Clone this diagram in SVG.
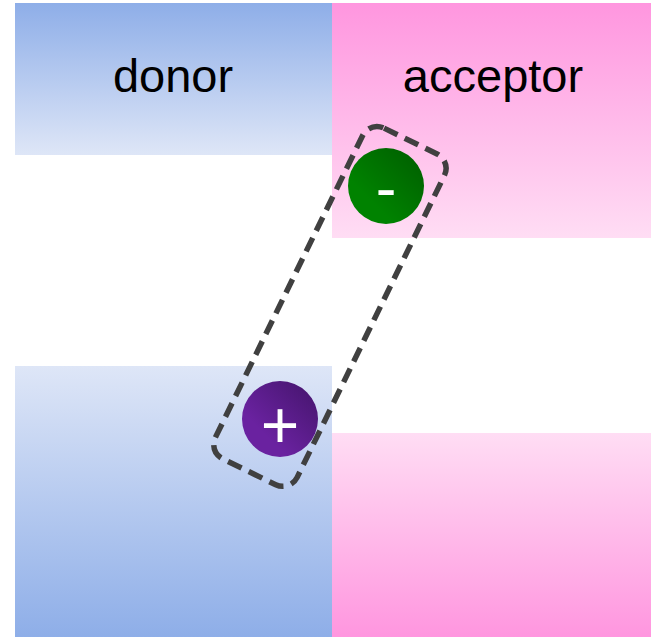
<svg xmlns="http://www.w3.org/2000/svg" width="657" height="637" viewBox="0 0 657 637">
  <defs>
    <!-- band fills: saturated at the outer edge, pale toward the gap -->
    <linearGradient id="blueDown" x1="0" y1="0" x2="0" y2="1">
      <stop offset="0" stop-color="#8eaee8"/>
      <stop offset="1" stop-color="#dee6f7"/>
    </linearGradient>
    <linearGradient id="blueUp" x1="0" y1="1" x2="0" y2="0">
      <stop offset="0" stop-color="#8eaee8"/>
      <stop offset="1" stop-color="#dee6f7"/>
    </linearGradient>
    <linearGradient id="pinkDown" x1="0" y1="0" x2="0" y2="1">
      <stop offset="0" stop-color="#ff96df"/>
      <stop offset="1" stop-color="#ffddf4"/>
    </linearGradient>
    <linearGradient id="pinkUp" x1="0" y1="1" x2="0" y2="0">
      <stop offset="0" stop-color="#ff96df"/>
      <stop offset="1" stop-color="#ffddf4"/>
    </linearGradient>
    <!-- charge fills -->
    <linearGradient id="greenBall" x1="0" y1="1" x2="1" y2="0">
      <stop offset="0.3" stop-color="#008200"/>
      <stop offset="1" stop-color="#005c00"/>
    </linearGradient>
    <linearGradient id="purpleBall" x1="0" y1="1" x2="1" y2="0">
      <stop offset="0.3" stop-color="#6a22a0"/>
      <stop offset="1" stop-color="#43146a"/>
    </linearGradient>
    <style>
      .label { font-family: "Liberation Sans", Arial, sans-serif; font-size: 47px; fill: #000; text-anchor: middle; }
      .charge { font-family: "Liberation Sans", Arial, sans-serif; fill: #fff; text-anchor: middle; }
      .pair { fill: none; stroke: #404040; stroke-width: 5.5; stroke-dasharray: 15 8; }
    </style>
  </defs>

  <rect width="657" height="637" fill="#fff"/>

  <g id="donor-top">
    <rect x="15" y="3" width="317" height="152" fill="url(#blueDown)"/>
    <text class="label" x="173" y="92">donor</text>
  </g>
  <g id="acceptor-top">
    <rect x="332" y="3" width="319" height="235" fill="url(#pinkDown)"/>
    <text class="label" x="493" y="92">acceptor</text>
  </g>
  <g id="donor-bottom">
    <rect x="15" y="366" width="317" height="271" fill="url(#blueUp)"/>
  </g>
  <g id="acceptor-bottom">
    <rect x="332" y="433" width="319" height="204" fill="url(#pinkUp)"/>
  </g>

  <!-- bound electron-hole pair outline -->
  <g id="connectors">
    <rect class="pair" x="284.5" y="122" width="91" height="368" rx="16" transform="rotate(26 329 306)"/>
  </g>

  <g id="electron">
    <circle cx="386" cy="186" r="38" fill="url(#greenBall)"/>
    <text class="charge" x="386" y="209" font-size="62">-</text>
  </g>
  <g id="hole">
    <circle cx="280" cy="419" r="38" fill="url(#purpleBall)"/>
    <text class="charge" x="280" y="448" font-size="66">+</text>
  </g>
</svg>
